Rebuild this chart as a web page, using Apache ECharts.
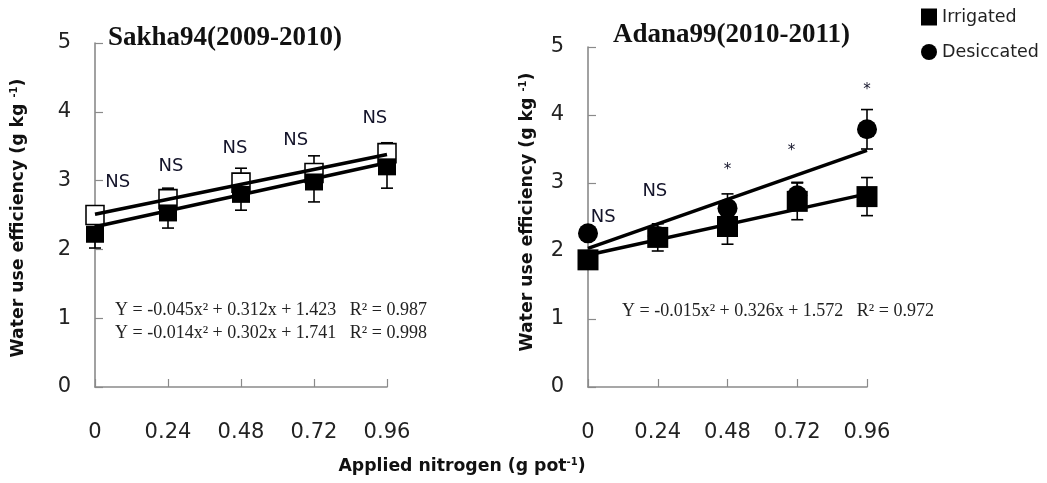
<!DOCTYPE html>
<html>
<head>
<meta charset="utf-8">
<script src="https://cdn.jsdelivr.net/npm/echarts@6/dist/echarts.min.js"></script>
<style>html,body{margin:0;padding:0;background:#fff;}#c{width:1047px;height:483px;}</style>
</head>
<body>
<div id="c"></div>
<script>
// ---- data ----
const xTicks = [0, 0.24, 0.48, 0.72, 0.96];
const yTicks = [0, 1, 2, 3, 4, 5];
// Sakha94 (2009-2010)
const sakhaOpen = [2.50, 2.73, 2.97, 3.11, 3.40];
const sakhaOpenErrUp = [0.08, 0.16, 0.21, 0.25, 0.15];
const sakhaFilled = [2.22, 2.53, 2.80, 2.98, 3.20];
const sakhaFilledErrDown = [0.20, 0.22, 0.23, 0.29, 0.31];
const trendX = [0, 0.96];
const sakhaOpenTrend = [2.51, 3.38];
const sakhaFilledTrend = [2.33, 3.26];
const sakhaNotesX = [0.075, 0.25, 0.46, 0.66, 0.92];
const sakhaNotesY = [2.97, 3.21, 3.47, 3.58, 3.91];
const sakhaNotes = ['NS', 'NS', 'NS', 'NS', 'NS'];
// Adana99 (2010-2011)
const adanaIrr = [1.87, 2.20, 2.36, 2.73, 2.80];
const adanaIrrErr = [0.08, 0.20, 0.26, 0.27, 0.28];
const adanaDes = [2.26, 2.22, 2.63, 2.82, 3.79];
const adanaDesErr = [0.06, 0.08, 0.21, 0.19, 0.29];
const adanaIrrTrend = [1.94, 2.84];
const adanaDesTrend = [2.04, 3.48];
const adanaNotesX = [0.052, 0.23, 0.48, 0.70, 0.96];
const adanaNotesY = [2.49, 2.88, 3.19, 3.47, 4.37];
const adanaNotes = ['NS', 'NS', '*', '*', '*'];

const titles = ['Sakha94(2009-2010)', 'Adana99(2010-2011)'];
const eqSakha = ['Y = -0.045x² + 0.312x + 1.423   R² = 0.987', 'Y = -0.014x² + 0.302x + 1.741   R² = 0.998'];
const eqAdana = ['Y = -0.015x² + 0.326x + 1.572   R² = 0.972'];

// ---- helpers ----
const pts = (xs, ys) => xs.map((x, i) => [x, ys[i]]);
const errPts = (ys, up, down) => xTicks.map((x, i) => [x, ys[i] - down[i], ys[i] + up[i]]);
const zeros = xTicks.map(() => 0);
const SANS = 'DejaVu Sans';

function errSeries(idx, data) {
  return {
    type: 'custom', xAxisIndex: idx, yAxisIndex: idx, z: 2, silent: true,
    data: data,
    renderItem: function (params, api) {
      const x = api.value(0);
      const lo = api.coord([x, api.value(1)]);
      const hi = api.coord([x, api.value(2)]);
      const cap = 6;
      const st = { stroke: '#000', lineWidth: 1.6 };
      return {
        type: 'group', children: [
          { type: 'line', shape: { x1: lo[0], y1: lo[1], x2: hi[0], y2: hi[1] }, style: st },
          { type: 'line', shape: { x1: lo[0] - cap, y1: lo[1], x2: lo[0] + cap, y2: lo[1] }, style: st },
          { type: 'line', shape: { x1: hi[0] - cap, y1: hi[1], x2: hi[0] + cap, y2: hi[1] }, style: st }
        ]
      };
    }
  };
}
function trend(idx, ys) {
  return {
    type: 'line', xAxisIndex: idx, yAxisIndex: idx, z: 6, silent: true,
    data: pts(trendX, ys), symbol: 'none',
    lineStyle: { color: '#000', width: 3.5 }
  };
}
function notes(idx, xs, ys, labels) {
  return {
    type: 'scatter', xAxisIndex: idx, yAxisIndex: idx, z: 7, silent: true,
    symbolSize: 0, itemStyle: { opacity: 1 },
    data: xs.map((x, i) => ({ value: [x, ys[i]], label: { formatter: labels[i], fontSize: labels[i] === '*' ? 15 : 18 } })),
    label: { show: true, position: 'inside', color: '#14142a', opacity: 1, fontFamily: SANS }
  };
}

const axisCommon = {
  axisLine: { show: true, lineStyle: { color: '#8a8a8a', width: 1.6 } },
  axisTick: { show: true, inside: true, length: 8, lineStyle: { color: '#8a8a8a', width: 1.2 } },
  splitLine: { show: false },
  axisLabel: { color: '#222', fontFamily: SANS, fontSize: 21 }
};

const chart = echarts.init(document.getElementById('c'), null, { renderer: 'canvas' });
const ySup = {
  rich: {
    b: { fontFamily: SANS, fontWeight: 'bold', fontSize: 17.3, fill: '#111' },
    s: { fontFamily: SANS, fontWeight: 'bold', fontSize: 10, fill: '#111', verticalAlign: 'top', padding: [0, 0, 9, 0] }
  }
};

chart.setOption({
  backgroundColor: '#fff',
  animation: false,
  grid: [
    { left: 95, top: 43, width: 292, height: 344 },
    { left: 588, top: 47, width: 279, height: 340 }
  ],
  xAxis: [0, 1].map(i => Object.assign({}, axisCommon, {
    type: 'value', gridIndex: i, min: 0, max: 0.96, interval: 0.24,
    axisLabel: Object.assign({}, axisCommon.axisLabel, { margin: 35, formatter: v => String(+v.toFixed(2)) })
  })),
  yAxis: [0, 1].map(i => Object.assign({}, axisCommon, {
    type: 'value', gridIndex: i, min: 0, max: 5, interval: 1,
    axisLabel: Object.assign({}, axisCommon.axisLabel, { margin: 24 })
  })),
  legend: {
    orient: 'vertical', left: 916, top: 3, itemGap: 17, itemWidth: 16, itemHeight: 17,
    data: [{ name: 'Irrigated', icon: 'rect' }, { name: 'Desiccated', icon: 'circle' }],
    itemStyle: { opacity: 1 },
    textStyle: { fontFamily: SANS, fontSize: 17.5, color: '#222' }
  },
  title: [
    { text: titles[0], left: 103, top: 20, textStyle: { fontFamily: 'Liberation Serif', fontWeight: 'bold', fontSize: 27, color: '#111' } },
    { text: titles[1], left: 608, top: 17, textStyle: { fontFamily: 'Liberation Serif', fontWeight: 'bold', fontSize: 27, color: '#111' } }
  ],
  graphic: [
    { type: 'text', x: 19, y: 218, rotation: Math.PI / 2, style: Object.assign({ text: '{b|Water use efficiency (g kg }{s|-1}{b|)}', align: 'center', verticalAlign: 'middle' }, ySup) },
    { type: 'text', x: 528, y: 212, rotation: Math.PI / 2, style: Object.assign({ text: '{b|Water use efficiency (g kg }{s|-1}{b|)}', align: 'center', verticalAlign: 'middle' }, ySup) },
    { type: 'text', x: 462, y: 467, style: Object.assign({ text: '{b|Applied nitrogen (g pot}{s|-1}{b|)}', align: 'center', verticalAlign: 'middle' }, ySup) },
    { type: 'text', x: 115, y: 310, style: { text: eqSakha[0], fontFamily: 'Liberation Serif', fontSize: 18, fill: '#222', verticalAlign: 'middle' } },
    { type: 'text', x: 115, y: 333, style: { text: eqSakha[1], fontFamily: 'Liberation Serif', fontSize: 18, fill: '#222', verticalAlign: 'middle' } },
    { type: 'text', x: 622, y: 311, style: { text: eqAdana[0], fontFamily: 'Liberation Serif', fontSize: 18, fill: '#222', verticalAlign: 'middle' } }
  ],
  series: [
    // Sakha94
    errSeries(0, errPts(sakhaOpen, sakhaOpenErrUp, zeros)),
    errSeries(0, errPts(sakhaFilled, zeros, sakhaFilledErrDown)),
    { name: 'Sakha94 open', type: 'scatter', xAxisIndex: 0, yAxisIndex: 0, z: 3, silent: true,
      data: pts(xTicks, sakhaOpen), symbol: 'rect', symbolSize: [18, 19],
      itemStyle: { color: '#fff', borderColor: '#000', borderWidth: 1.6, opacity: 1 } },
    { name: 'Sakha94 filled', type: 'scatter', xAxisIndex: 0, yAxisIndex: 0, z: 4, silent: true,
      data: pts(xTicks, sakhaFilled), symbol: 'rect', symbolSize: [18, 17],
      itemStyle: { color: '#000', opacity: 1 } },
    trend(0, sakhaOpenTrend),
    trend(0, sakhaFilledTrend),
    notes(0, sakhaNotesX, sakhaNotesY, sakhaNotes),
    // Adana99
    errSeries(1, errPts(adanaDes, adanaDesErr, adanaDesErr)),
    errSeries(1, errPts(adanaIrr, adanaIrrErr, adanaIrrErr)),
    { name: 'Desiccated', type: 'scatter', xAxisIndex: 1, yAxisIndex: 1, z: 3, silent: true,
      data: pts(xTicks, adanaDes), symbol: 'circle', symbolSize: 20,
      itemStyle: { color: '#000', opacity: 1 } },
    { name: 'Irrigated', type: 'scatter', xAxisIndex: 1, yAxisIndex: 1, z: 4, silent: true,
      data: pts(xTicks, adanaIrr), symbol: 'rect', symbolSize: 21,
      itemStyle: { color: '#000', opacity: 1 } },
    trend(1, adanaDesTrend),
    trend(1, adanaIrrTrend),
    notes(1, adanaNotesX, adanaNotesY, adanaNotes)
  ]
});
</script>
</body>
</html>
